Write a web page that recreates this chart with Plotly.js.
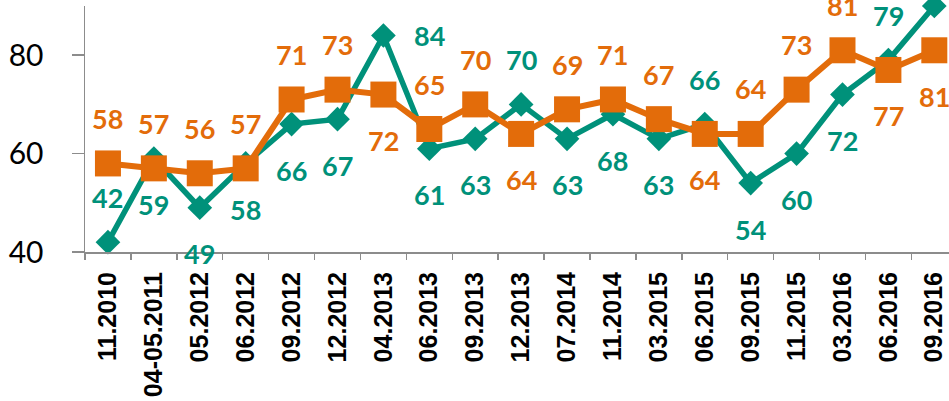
<!DOCTYPE html>
<html>
<head>
<meta charset="utf-8">
<script src="https://cdn.plot.ly/plotly-3.0.1.min.js"></script>
<style>html,body{margin:0;padding:0;background:#fff;overflow:hidden}#chart{width:949px;height:401px}</style>
</head>
<body>
<div id="chart"></div>
<script>
// Data
const categories = ["11.2010","04-05.2011","05.2012","06.2012","09.2012","12.2012","04.2013","06.2013","09.2013","12.2013","07.2014","11.2014","03.2015","06.2015","09.2015","11.2015","03.2016","06.2016","09.2016"];
const tealValues = [42,59,49,58,66,67,84,61,63,70,63,68,63,66,54,60,72,79,90];
const orangeValues = [58,57,56,57,71,73,72,65,70,64,69,71,67,64,64,73,81,77,81];

// Label placement (presentation only)
const tealLabelPos = ["a","b","b","b","b","b","r","b","b","a","b","b","b","a","b","b","b","a","a"];
const orangeLabelPos = ["a","a","a","a","a","a","b","a","a","b","a","a","a","b","a","a","a","b","b"];

const TEAL = "#00917A";
const ORANGE = "#E36C0A";

function shiftFor(p){
  if(p==="a") return {xshift:0,yshift:45};
  if(p==="b") return {xshift:0,yshift:-46};
  return {xshift:46,yshift:0};
}

const annotations = [];
function addLabels(vals, pos, color){
  vals.forEach((v,i)=>{
    const s = shiftFor(pos[i]);
    annotations.push({
      x: i, y: v, xref:"x", yref:"y",
      text: String(v), showarrow:false,
      xshift: s.xshift, yshift: s.yshift,
      xanchor:"center", yanchor:"middle",
      font:{family:"Lato, 'Open Sans', sans-serif", size:27, color:color, weight:700}
    });
  });
}
addLabels(tealValues, tealLabelPos, TEAL);
addLabels(orangeValues, orangeLabelPos, ORANGE);

const traces = [
  {
    x: categories, y: tealValues, type:"scatter", mode:"lines+markers",
    line:{color:TEAL, width:5.5},
    marker:{symbol:"diamond", size:19, color:TEAL},
    cliponaxis:false, hoverinfo:"skip"
  },
  {
    x: categories, y: orangeValues, type:"scatter", mode:"lines+markers",
    line:{color:ORANGE, width:6},
    marker:{symbol:"square", size:26, color:ORANGE},
    cliponaxis:false, hoverinfo:"skip"
  }
];

const layout = {
  width:949, height:401,
  margin:{l:85, r:0, t:6, b:149, pad:0},
  paper_bgcolor:"#fff", plot_bgcolor:"#fff",
  showlegend:false,
  xaxis:{
    type:"category",
    categoryorder:"array", categoryarray:categories,
    range:[-0.5, 18.32],
    tickangle:-90,
    tickson:"boundaries",
    ticks:"outside", ticklen:6, tickwidth:1.5, tickcolor:"#8c8c8c",
    showline:true, linecolor:"#8c8c8c", linewidth:2,
    showgrid:false, zeroline:false,
    tickfont:{family:"'Liberation Sans', Arial, sans-serif", size:25, color:"#000", weight:700},
    ticklabelstandoff:8,
    fixedrange:true
  },
  yaxis:{
    range:[40,90],
    tickvals:[40,60,80],
    ticktext:["40","60","80"],
    ticks:"outside", ticklen:12, tickwidth:1.5, tickcolor:"#8c8c8c",
    showline:true, linecolor:"#8c8c8c", linewidth:1.5,
    showgrid:false, zeroline:false,
    tickfont:{family:"Lato, 'Open Sans', sans-serif", size:30, color:"#000"},
    ticklabelstandoff:22,
    fixedrange:true
  },
  annotations: annotations
};

Plotly.newPlot("chart", traces, layout, {displayModeBar:false, staticPlot:true});
</script>
</body>
</html>
